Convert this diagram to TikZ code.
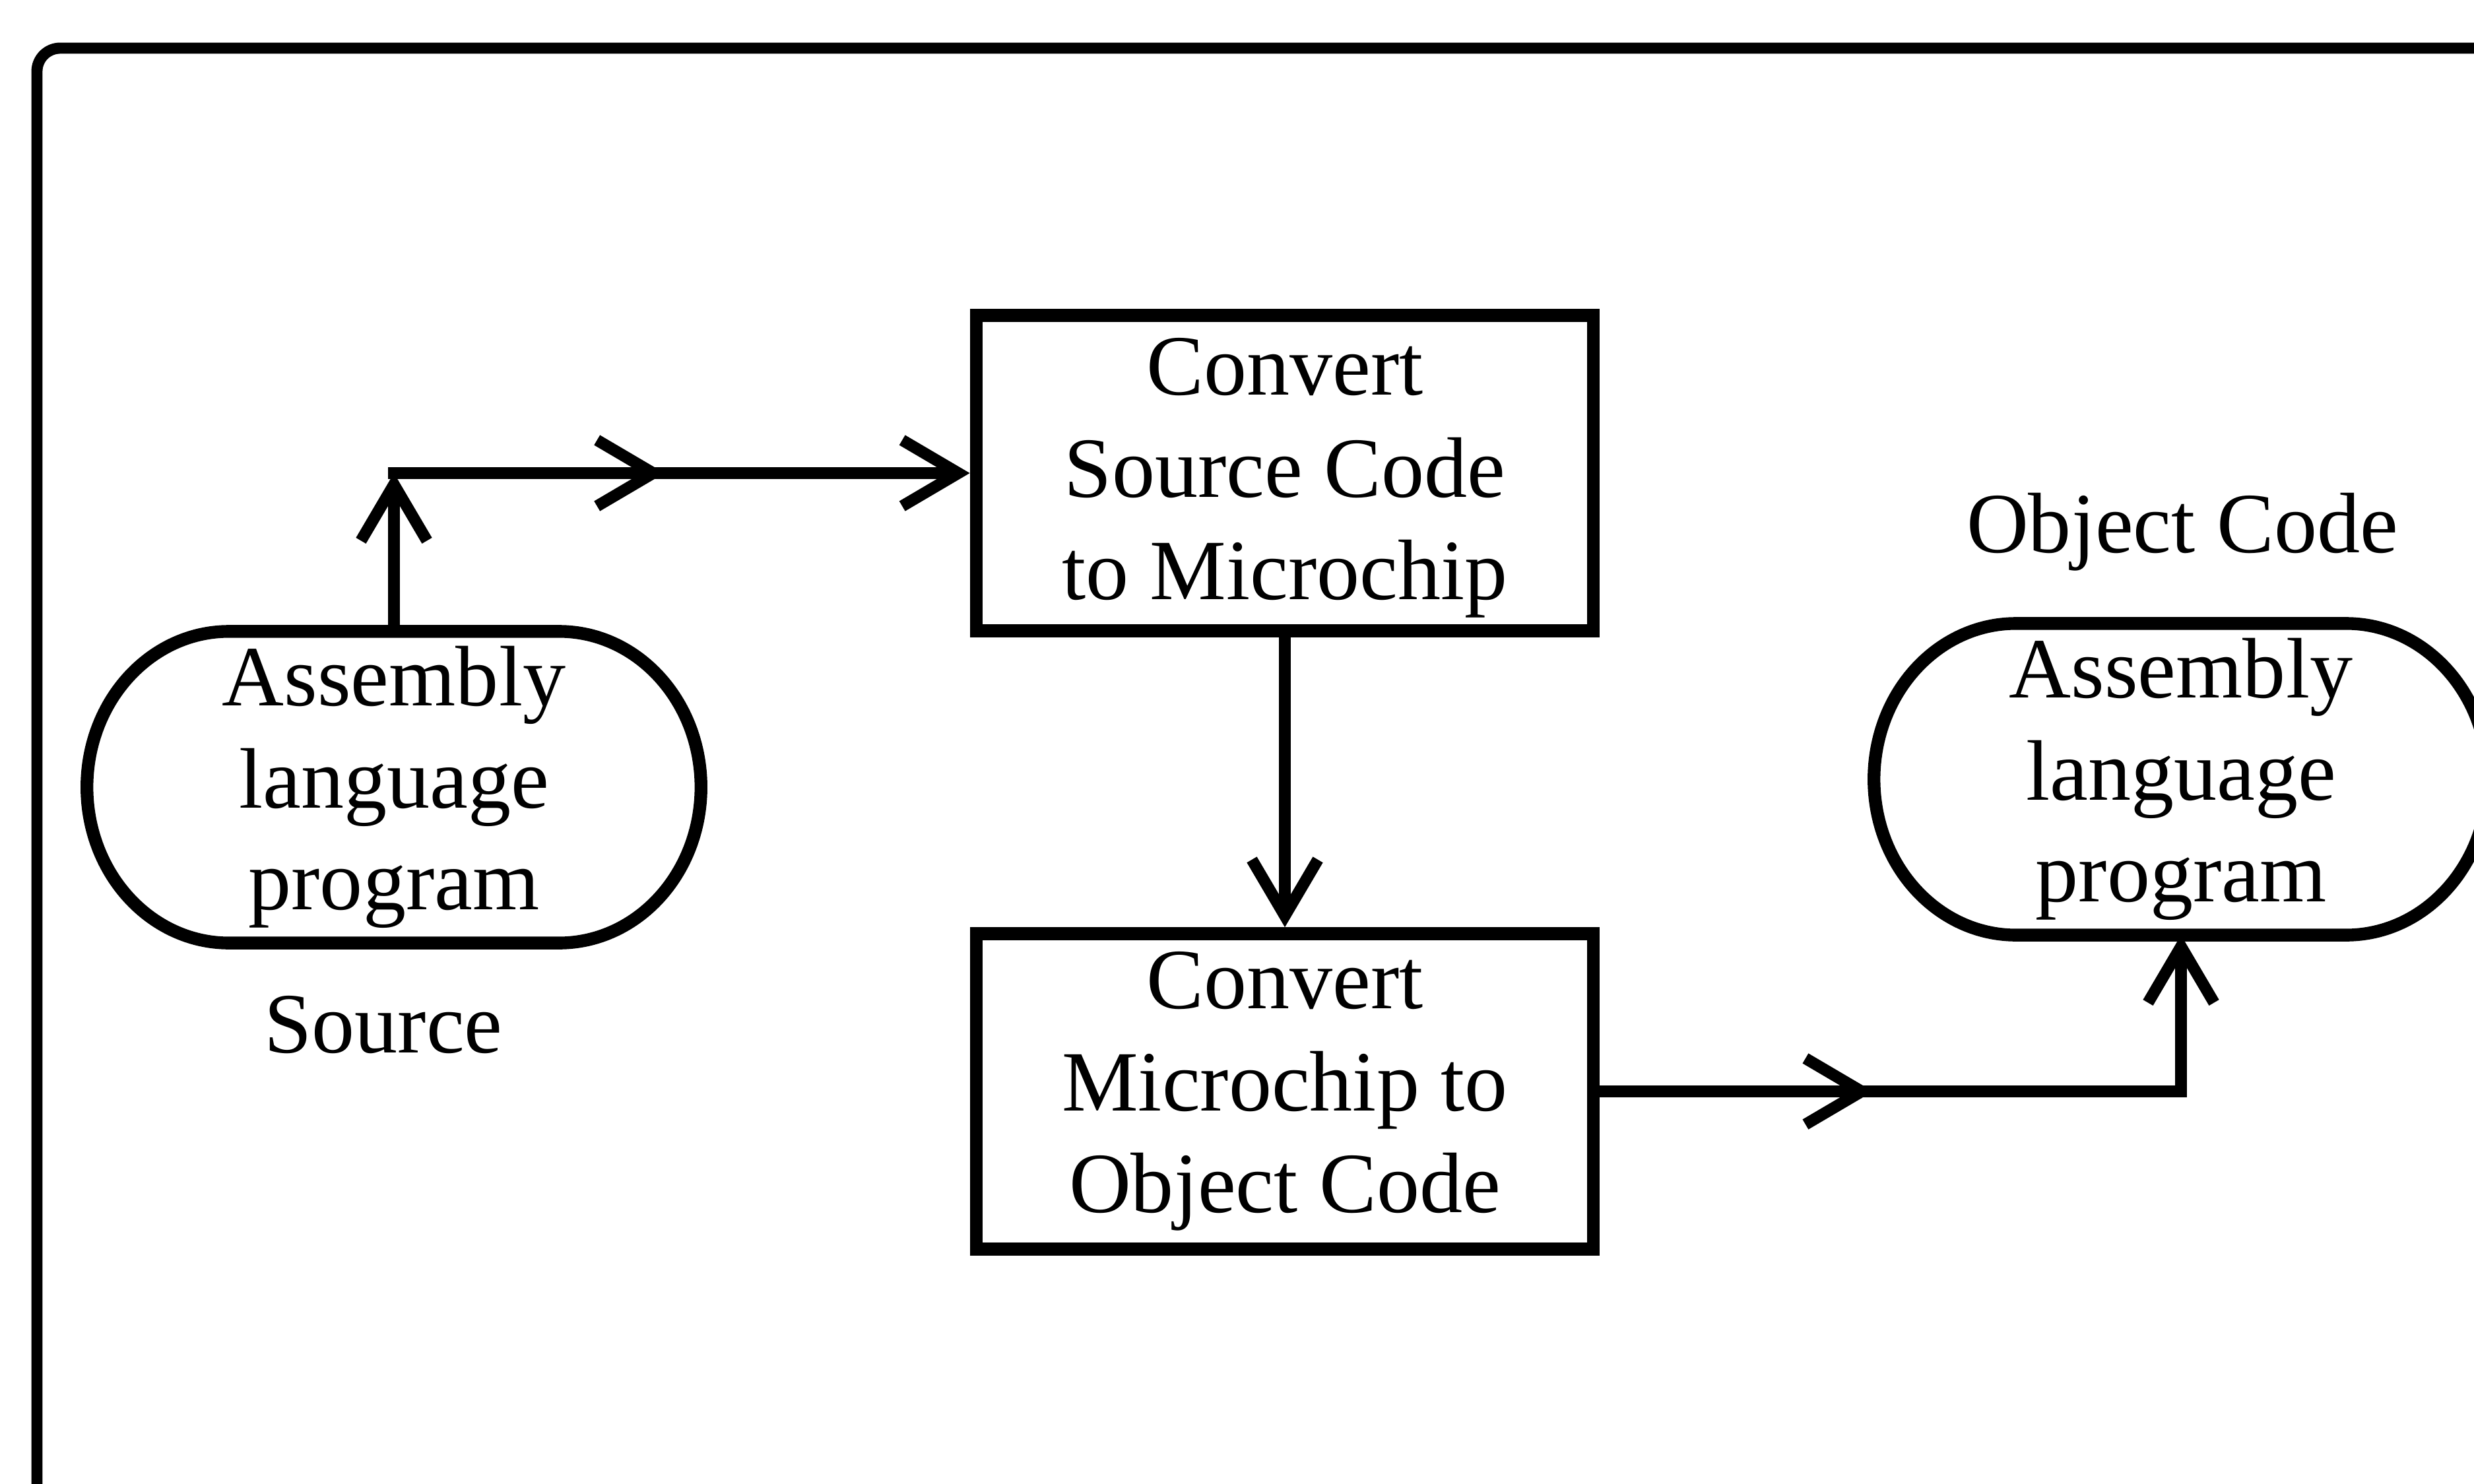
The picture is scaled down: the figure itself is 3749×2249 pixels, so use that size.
\documentclass[tikz,border=0pt]{standalone}
\usepackage{fontspec}
\setmainfont{Liberation Serif}
\usetikzlibrary{arrows.meta,decorations.markings}
\tikzset{
  barb/.tip={Straight Barb[length=0.85cm,width=1.0cm]},
  lbl/.style={font=\fontsize{37}{44}\selectfont, inner sep=0pt},
  procbox/.style={draw, rectangle, line width=5.5pt, minimum width=9.35cm,
    minimum height=4.78cm, align=center, inner sep=0pt, font=\fontsize{37}{44}\selectfont},
  terminal/.style={rectangle, minimum width=9.3cm, minimum height=4.72cm, align=center,
    inner sep=0pt, outer sep=0pt, font=\fontsize{37}{44}\selectfont},
  termshape/.style={draw, line width=5.5pt, line join=round},
  conn/.style={line width=5pt},
  midarrow/.style={decoration={markings, mark=at position #1 with {\arrow{barb}}},
    postaction=decorate}
}
\newcommand\stadium[1]{%
  \draw[termshape] ([xshift=2.15cm]#1.north west) -- ([xshift=-2.15cm]#1.north east)
    arc[start angle=90, end angle=-90, x radius=2.15cm, y radius=2.36cm]
    -- ([xshift=2.15cm]#1.south west)
    arc[start angle=270, end angle=90, x radius=2.15cm, y radius=2.36cm] -- cycle;}
\begin{document}
\begin{tikzpicture}[x=0.01cm,y=-0.01cm]
\useasboundingbox (0,0) rectangle (3749,2249);
\clip (0,0) rectangle (3749,2249);
% outer frame (open at right and bottom)
\draw[line width=4.8pt, rounded corners=10] (56,2320) -- (56,73) -- (3820,73);

% nodes
\node[terminal] (src) at (597,1193) {Assembly\\language\\program};
\stadium{src}
\node[lbl, anchor=base] (srclbl) at (581,1595) {Source};
\node[procbox] (b1) at (1947,717) {\\[-0.54cm]Convert\\Source Code\\to Microchip};
\node[procbox] (b2) at (1947,1654) {Convert\\Microchip to\\Object Code};
\node[terminal] (obj) at (3305,1181) {Assembly\\language\\program};
\stadium{obj}
\node[lbl, anchor=base] (objlbl) at (3307,837) {Object Code};

\coordinate (c1) at (src.north |- b1.west);
\coordinate (c2) at (obj.south |- b2.east);

% connectors
\draw[conn, -{barb}] (src.north) -- (c1);
\draw[conn, line cap=rect, midarrow=0.47, -{barb}] (c1) -- (b1.west);
\draw[conn, -{barb}] (b1.south) -- (b2.north);
\draw[conn, line cap=rect, midarrow=0.47] (b2.east) -- (c2);
\draw[conn, line cap=rect, -{barb}] (c2) -- (obj.south);
\end{tikzpicture}
\end{document}
